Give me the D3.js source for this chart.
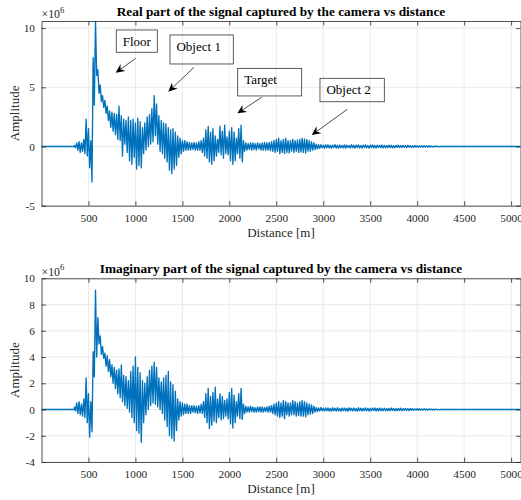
<!DOCTYPE html>
<html lang="en">
<head>
<meta charset="utf-8">
<script src="https://d3js.org/d3.v7.min.js"></script>
<style>
  body { margin: 0; background: #fff; }
  text { font-family: "Liberation Serif", "Times New Roman", serif; }
</style>
</head>
<body>
<script>
// distance of the first slice and slice width (m); each slice keeps the
// upper and lower value of the signal (x 1e6)
const dStart = 350;
const dStep = 25;

const realHi = [
  0.1, 0.3, 0.4, 0.3,      0.6, 2.3, 1.5, 0.5,      7.5, 10.6, 6.5, 5.2,
  4.3, 3.9, 3.4, 3.0,      2.9, 2.8, 2.7, 3.4,      2.6, 2.3, 2.2, 2.5,
  2.2, 2.3, 2.0, 2.4,      2.1, 1.6, 2.0, 2.5,      2.7, 3.2, 4.3, 3.6,
  2.6, 2.2, 2.0, 1.9,      1.6, 1.4, 1.5, 1.2,      0.9, 0.7, 0.5, 0.5,
  0.4, 0.35, 0.3, 0.35,    0.3, 0.4, 0.5, 0.7,      1.4, 1.7, 1.2, 1.5,
  0.9, 0.6, 1.7, 1.3,      1.8, 0.8, 1.3, 1.6,      1.2, 0.7, 1.5, 1.8,
  0.5, 0.3, 0.25, 0.3,     0.3, 0.25, 0.3, 0.25,    0.3, 0.35, 0.3, 0.35,
  0.4, 0.5, 0.6, 0.7,      0.5, 0.6, 0.7, 0.5,      0.5, 0.6, 0.5, 0.55,
  0.6, 0.7, 0.65, 0.6,     0.5, 0.4, 0.3, 0.2,      0.15, 0.15, 0.1, 0.15,
  0.14, 0.10, 0.12, 0.16, 0.11, 0.13, 0.09, 0.14,
  0.12, 0.08, 0.15, 0.10, 0.12, 0.14, 0.09, 0.12,
  0.13, 0.08, 0.11, 0.14, 0.09, 0.12, 0.10, 0.13,
  0.09, 0.08, 0.12, 0.10, 0.07, 0.09, 0.11, 0.08,
  0.09, 0.07, 0.10, 0.08, 0.06, 0.09, 0.07, 0.06,
  0.08, 0.06, 0.05, 0.07, 0.04, 0.03, 0.04, 0.02
];
const realLo = [
  -0.1, -0.3, -0.5, -0.4,  -0.6, -0.8, -1.8, -3.0,  3.5, 6.0, 4.5, 3.8,
  3.3, 2.8, 2.2, 1.6,      1.3, 1.0, 0.6, 0.5,      -0.8, 0.2, -0.5, -1.2,
  -1.5, -0.9, -1.9, -1.6,  -1.8, -0.6, -0.3, 0.0,   0.2, 0.4, 0.9, 0.2,
  -0.4, -0.6, -1.0, -1.3,  -2.0, -2.3, -1.9, -1.6,  -0.9, -0.6, -0.4, -0.3,
  -0.3, -0.3, -0.25, -0.3, -0.3, -0.3, -0.5, -0.8,  -1.0, -1.3, -1.5, -1.2,
  -0.8, -0.5, -0.7, -1.0,  -0.6, -0.7, -1.2, -1.5,  -1.2, -0.6, -1.0, -1.3,
  -0.4, -0.3, -0.25, -0.3, -0.25, -0.3, -0.2, -0.3, -0.3, -0.3, -0.3, -0.35,
  -0.4, -0.5, -0.4, -0.6,  -0.5, -0.6, -0.5, -0.55, -0.4, -0.5, -0.4, -0.5,
  -0.45, -0.5, -0.55, -0.4, -0.4, -0.3, -0.25, -0.2, -0.15, -0.1, -0.15, -0.1,
  -0.12, -0.15, -0.09, -0.13, -0.14, -0.10, -0.12, -0.14,
  -0.09, -0.13, -0.10, -0.14, -0.08, -0.12, -0.13, -0.09,
  -0.10, -0.14, -0.09, -0.12, -0.13, -0.08, -0.10, -0.12,
  -0.09, -0.10, -0.08, -0.12, -0.09, -0.07, -0.09, -0.08,
  -0.07, -0.09, -0.06, -0.08, -0.07, -0.06, -0.07, -0.05,
  -0.06, -0.05, -0.06, -0.04, -0.05, -0.03, -0.02, -0.02
];

const imagHi = [
  0.2, 0.5, 0.6, 0.4,      0.8, 2.4, 1.2, 0.6,      4.4, 9.1, 7.0, 5.6,
  4.8, 4.3, 4.1, 3.8,      3.4, 3.2, 3.0, 3.1,      3.4, 2.6, 2.5, 2.2,
  2.9, 3.3, 4.0, 3.2,      2.8, 2.2, 2.0, 2.5,      3.0, 3.3, 3.6, 3.2,
  2.4, 2.1, 2.4, 2.6,      2.9, 2.1, 1.9, 1.4,      0.8, 0.6, 0.5, 0.4,
  0.4, 0.3, 0.3, 0.3,      0.25, 0.3, 0.4, 0.6,     1.2, 1.6, 1.0, 1.3,
  1.7, 0.8, 1.2, 1.0,      0.7, 0.8, 1.3, 1.6,      1.1, 0.6, 1.2, 1.6,
  0.4, 0.25, 0.2, 0.25,    0.2, 0.15, 0.2, 0.2,     0.2, 0.15, 0.2, 0.25,
  0.3, 0.4, 0.5, 0.6,      0.5, 0.7, 0.6, 0.5,      0.5, 0.7, 0.6, 0.5,
  0.6, 0.7, 0.6, 0.5,      0.4, 0.35, 0.25, 0.15,   0.12, 0.15, 0.1, 0.12,
  0.12, 0.09, 0.13, 0.10, 0.14, 0.08, 0.12, 0.11,
  0.09, 0.13, 0.10, 0.12, 0.08, 0.13, 0.10, 0.09,
  0.12, 0.10, 0.08, 0.11, 0.12, 0.09, 0.11, 0.08,
  0.10, 0.07, 0.09, 0.11, 0.08, 0.07, 0.09, 0.10,
  0.07, 0.08, 0.06, 0.09, 0.07, 0.05, 0.07, 0.06,
  0.05, 0.06, 0.04, 0.05, 0.04, 0.03, 0.03, 0.02
];
const imagLo = [
  -0.1, -0.3, -0.4, -0.5,  -0.6, -1.0, -2.1, -1.7,  2.5, 4.0, 5.0, 4.2,
  3.9, 3.3, 2.9, 2.5,      2.0, 1.6, 1.2, 0.9,      0.6, 0.3, 0.1, -0.2,
  -0.6, -1.0, -1.6, -1.8,  -2.5, -1.0, -0.4, 0.0,   0.3, 0.5, 0.4, 0.2,
  0.0, -0.3, -0.8, -1.3,   -2.0, -2.2, -2.4, -1.6,  -0.8, -0.5, -0.4, -0.3,
  -0.3, -0.3, -0.2, -0.25, -0.3, -0.25, -0.3, -0.6, -1.0, -1.45, -1.2, -0.9,
  -1.0, -0.6, -0.8, -0.7,  -0.5, -0.7, -1.1, -1.4,  -1.0, -0.5, -0.7, -0.75,
  -0.3, -0.2, -0.2, -0.15, -0.2, -0.2, -0.15, -0.2, -0.2, -0.15, -0.2, -0.2,
  -0.3, -0.4, -0.5, -0.6,  -0.5, -0.7, -0.4, -0.5,  -0.4, -0.4, -0.5, -0.45,
  -0.5, -0.5, -0.55, -0.4, -0.35, -0.3, -0.2, -0.15, -0.12, -0.1, -0.12, -0.1,
  -0.11, -0.13, -0.09, -0.12, -0.10, -0.14, -0.09, -0.12,
  -0.13, -0.08, -0.11, -0.10, -0.13, -0.09, -0.12, -0.10,
  -0.09, -0.12, -0.10, -0.08, -0.11, -0.12, -0.09, -0.10,
  -0.08, -0.10, -0.09, -0.07, -0.10, -0.08, -0.07, -0.09,
  -0.07, -0.06, -0.08, -0.06, -0.07, -0.05, -0.06, -0.05,
  -0.05, -0.04, -0.05, -0.03, -0.04, -0.03, -0.02, -0.02
];

const xTicks = [500, 1000, 1500, 2000, 2500, 3000, 3500, 4000, 4500, 5000];
const realTicks = [-5, 0, 5, 10];
const imagTicks = [-4, -2, 0, 2, 4, 6, 8, 10];

// text boxes on the first plot, in distance / amplitude units
const notes = [
  {label: "Floor",    box: [796, 9.84, 1233, 7.96],  from: [1003, 7.45], to: [790, 6.23]},
  {label: "Object 1", box: [1368, 9.42, 2042, 6.97], from: [1624, 6.69], to: [1350, 4.63]},
  {label: "Target",   box: [2089, 6.60, 2770, 4.27], from: [2345, 4.16], to: [2085, 2.80]},
  {label: "Object 2", box: [2965, 5.76, 3650, 3.78], from: [3256, 3.14], to: [2877, 0.97]}
];

const W = 521, H = 500;
const blue = "#0072BD";
const axisCol = "#262626";

const svg = d3.select("body").append("svg")
  .attr("width", W)
  .attr("height", H);

const x = d3.scaleLinear().domain([0, 5100]).range([41.5, 520.5]);

const panels = [
  {title: "Real part of the signal captured by the camera vs distance",
   hi: realHi, lo: realLo, yDomain: [-5, 10.6], yTicks: realTicks,
   top: 21, bottom: 205.7, notes: notes},
  {title: "Imaginary part of the signal captured by the camera vs distance",
   hi: imagHi, lo: imagLo, yDomain: [-4, 10], yTicks: imagTicks,
   top: 278.3, bottom: 462, notes: []}
];

// zig-zag between upper and lower value of each slice, flat outside
function signalPoints(hi, lo) {
  const pts = [[0, 0], [dStart, 0]];
  hi.forEach((h, i) => {
    const d = dStart + i * dStep;
    pts.push([d, h], [d + dStep / 2, lo[i]]);
  });
  pts.push([dStart + hi.length * dStep, 0], [x.domain()[1], 0]);
  return pts;
}

function styleAxis(g) {
  g.attr("font-family", "Liberation Serif, Times New Roman, serif")
    .attr("font-size", 11.3)
    .attr("color", axisCol);
  g.select(".domain").attr("stroke-width", 0.8);
  g.selectAll(".tick line").attr("stroke-width", 0.8);
}

const fmt = d => String(d).replace("\u2212", "-");

panels.forEach((p, k) => {
  const y = d3.scaleLinear().domain(p.yDomain).range([p.bottom, p.top]);
  const g = svg.append("g");
  const left = x.range()[0], right = x.range()[1];

  // grid
  g.append("g").selectAll("line").data(xTicks).join("line")
    .attr("x1", d => x(d)).attr("x2", d => x(d))
    .attr("y1", p.top).attr("y2", p.bottom)
    .attr("stroke", "#e4e4e4").attr("stroke-width", 0.8);
  g.append("g").selectAll("line").data(p.yTicks).join("line")
    .attr("x1", left).attr("x2", right)
    .attr("y1", d => y(d)).attr("y2", d => y(d))
    .attr("stroke", "#e4e4e4").attr("stroke-width", 0.8);

  // signal
  g.append("clipPath").attr("id", "clip" + k)
    .append("rect")
    .attr("x", left).attr("y", p.top)
    .attr("width", right - left).attr("height", p.bottom - p.top);

  const line = d3.line().x(d => x(d[0])).y(d => y(d[1]));
  g.append("path")
    .datum(signalPoints(p.hi, p.lo))
    .attr("clip-path", "url(#clip" + k + ")")
    .attr("fill", "none")
    .attr("stroke", blue)
    .attr("stroke-width", 1.35)
    .attr("stroke-linejoin", "round")
    .attr("d", line);

  // axes, ticks pointing inwards on all four sides
  g.append("g")
    .attr("transform", "translate(0," + p.bottom + ")")
    .call(d3.axisBottom(x).tickValues(xTicks).tickFormat(fmt).tickSizeInner(-4.5).tickSizeOuter(0).tickPadding(8))
    .call(styleAxis);
  g.append("g")
    .attr("transform", "translate(0," + p.top + ")")
    .call(d3.axisTop(x).tickValues(xTicks).tickSizeInner(-4.5).tickSizeOuter(0).tickFormat(""))
    .call(styleAxis);
  g.append("g")
    .attr("transform", "translate(" + left + ",0)")
    .call(d3.axisLeft(y).tickValues(p.yTicks).tickFormat(fmt).tickSizeInner(-4.5).tickSizeOuter(0).tickPadding(6.5))
    .call(styleAxis);
  g.append("g")
    .attr("transform", "translate(" + right + ",0)")
    .call(d3.axisRight(y).tickValues(p.yTicks).tickSizeInner(-4.5).tickSizeOuter(0).tickFormat(""))
    .call(styleAxis);

  // exponent
  const ex = g.append("text")
    .attr("x", left)
    .attr("y", p.top - 2.7)
    .attr("font-size", 11.8)
    .attr("fill", axisCol)
    .text("\u00d710");
  ex.append("tspan")
    .attr("dy", -5.5)
    .attr("font-size", 8.5)
    .text("6");

  // title
  g.append("text")
    .attr("x", (left + right) / 2)
    .attr("y", p.top - 5)
    .attr("text-anchor", "middle")
    .attr("font-size", 13.3)
    .attr("font-weight", "bold")
    .attr("fill", "#000")
    .text(p.title);

  // axis labels
  g.append("text")
    .attr("x", (left + right) / 2)
    .attr("y", p.bottom + 31)
    .attr("text-anchor", "middle")
    .attr("font-size", 13)
    .attr("fill", axisCol)
    .text("Distance [m]");
  g.append("text")
    .attr("transform", "translate(18.5," + (p.top + p.bottom) / 2 + ") rotate(-90)")
    .attr("text-anchor", "middle")
    .attr("font-size", 13)
    .attr("fill", axisCol)
    .text("Amplitude");

  // annotations
  p.notes.forEach(n => {
    const bx = x(n.box[0]), by = y(n.box[1]);
    g.append("rect")
      .attr("x", bx).attr("y", by)
      .attr("width", x(n.box[2]) - bx)
      .attr("height", y(n.box[3]) - by)
      .attr("fill", "none")
      .attr("stroke", "#333")
      .attr("stroke-width", 0.8);
    g.append("text")
      .attr("x", bx + 6.5)
      .attr("y", by + 16)
      .attr("font-size", 13)
      .attr("fill", "#000")
      .text(n.label);

    const x1 = x(n.from[0]), y1 = y(n.from[1]);
    const x2 = x(n.to[0]), y2 = y(n.to[1]);
    const ang = Math.atan2(y2 - y1, x2 - x1);
    const L = 9, Wd = 4.2, notch = 6;
    g.append("line")
      .attr("x1", x1).attr("y1", y1)
      .attr("x2", x2 - Math.cos(ang) * notch)
      .attr("y2", y2 - Math.sin(ang) * notch)
      .attr("stroke", "#000")
      .attr("stroke-width", 0.7);
    const pt = (a, b) => [x2 + Math.cos(ang) * a - Math.sin(ang) * b,
                          y2 + Math.sin(ang) * a + Math.cos(ang) * b];
    g.append("path")
      .attr("d", "M" + [pt(0, 0), pt(-L, Wd), pt(-notch, 0), pt(-L, -Wd)].join("L") + "Z")
      .attr("fill", "#000");
  });
});
</script>
</body>
</html>
